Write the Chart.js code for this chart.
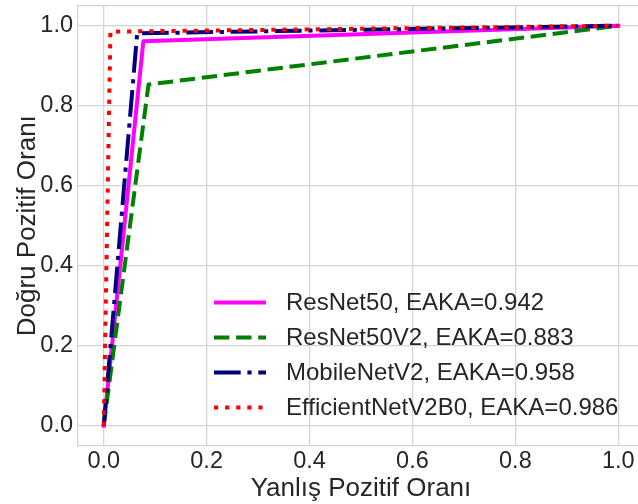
<!DOCTYPE html>
<html>
<head>
<meta charset="utf-8">
<script src="https://cdn.jsdelivr.net/npm/chart.js@4.4.1/dist/chart.umd.min.js"></script>
<style>
html,body{margin:0;padding:0;background:#fff;overflow:hidden;width:638px;height:504px}
#roc{display:block}
</style>
</head>
<body>
<canvas id="roc" width="660" height="504"></canvas>
<script>
// ROC eğrileri: (FPR, TPR) noktaları
const modelNames=['ResNet50','ResNet50V2','MobileNetV2','EfficientNetV2B0'];
const eakaScores=[0.942,0.883,0.958,0.986];
const resnet50Fpr=[0,0.077,1],resnet50Tpr=[0,0.961,1];
const resnet50v2Fpr=[0,0.087,1],resnet50v2Tpr=[0,0.853,1];
const mobilenetFpr=[0,0.065,1],mobilenetTpr=[0,0.981,1];
const effnetFpr=[0,0.013,1],effnetTpr=[0,0.985,1];
const tickValues=[0,0.2,0.4,0.6,0.8,1.0];

const FONT='"Liberation Sans", Arial, sans-serif';
const TXT='#262626',GRID='#d4d4d4';

const styles=[
  {color:'#ff00ff',dash:[],cap:'square'},
  {color:'#008000',dash:[15.4,6.7],cap:'butt'},
  {color:'#000080',dash:[26.7,6.7,4.2,6.7],cap:'butt'},
  {color:'#ff0000',dash:[4.2,6.9],cap:'butt'}
];
const curves=[[resnet50Fpr,resnet50Tpr],[resnet50v2Fpr,resnet50v2Tpr],[mobilenetFpr,mobilenetTpr],[effnetFpr,effnetTpr]];

function pts(fpr,tpr){return fpr.map(function(x,i){return{x:x,y:tpr[i]};});}

const datasets=curves.map(function(c,i){
  return{
    label:modelNames[i]+', EAKA='+eakaScores[i].toFixed(3),
    data:pts(c[0],c[1]),
    borderColor:styles[i].color,
    borderDash:styles[i].dash,
    borderCapStyle:styles[i].cap,
    borderJoinStyle:'round',
    borderWidth:4,pointRadius:0,tension:0,fill:false,
    order:curves.length-i // sonraki eğri üstte çizilsin
  };
});

// çerçevenin üst kenarı
const frame={id:'frame',beforeDatasetsDraw:function(chart){
  const a=chart.chartArea,ctx=chart.ctx;
  ctx.save();ctx.strokeStyle=GRID;ctx.lineWidth=1.3;
  ctx.beginPath();ctx.moveTo(a.left,a.top);ctx.lineTo(a.right,a.top);ctx.stroke();
  ctx.restore();
}};

// lejant: grafik alanının sağ alt köşesi, çerçevesiz
const legendBox={id:'legendBox',afterDatasetsDraw:function(chart){
  const a=chart.chartArea,ctx=chart.ctx;
  const x0=a.left+136,x1=x0+52,tx=x0+72,y0=302.5,step=35;
  ctx.save();
  ctx.font='24px '+FONT;ctx.textBaseline='middle';ctx.fillStyle=TXT;
  chart.data.datasets.forEach(function(ds,i){
    const y=y0+i*step;
    ctx.save();
    ctx.strokeStyle=ds.borderColor;ctx.lineWidth=4;
    ctx.setLineDash(ds.borderDash);ctx.lineCap=ds.borderCapStyle==='square'?'butt':ds.borderCapStyle;
    ctx.beginPath();ctx.moveTo(x0,y);ctx.lineTo(x1,y);ctx.stroke();
    ctx.restore();
    ctx.fillText(ds.label,tx,y+1);
  });
  ctx.restore();
}};

function onlyTicks(s){s.ticks=tickValues.map(function(v){return{value:v};});}
function noPad(s){s.paddingTop=0;s.paddingBottom=0;s.paddingLeft=0;s.paddingRight=0;}

new Chart(document.getElementById('roc'),{
  type:'line',
  data:{datasets:datasets},
  options:{
    responsive:false,animation:false,
    layout:{padding:{top:5.7,right:16,left:0,bottom:0}},
    plugins:{legend:{display:false},tooltip:{enabled:false}},
    scales:{
      x:{type:'linear',min:-0.05,max:1.05,
        afterBuildTicks:onlyTicks,
        afterFit:function(s){s.height=58.3;noPad(s);},
        grid:{color:GRID,lineWidth:1.3,drawTicks:false},
        border:{display:true,color:GRID,width:1.3},
        ticks:{padding:2,color:TXT,font:{family:FONT,size:23.5},callback:function(v){return v.toFixed(1);}},
        title:{display:true,text:'Yanlış Pozitif Oranı',color:TXT,font:{family:FONT,size:26},padding:{top:0,bottom:0}}
      },
      y:{type:'linear',min:-0.05,max:1.05,
        afterBuildTicks:onlyTicks,
        afterFit:function(s){s.width=78;noPad(s);},
        grid:{color:GRID,lineWidth:1.3,drawTicks:false},
        border:{display:true,color:GRID,width:1.3},
        ticks:{padding:5,color:TXT,font:{family:FONT,size:23.5},callback:function(v){return v.toFixed(1);}},
        title:{display:true,text:'Doğru Pozitif Oranı',color:TXT,font:{family:FONT,size:26},padding:{top:12,bottom:0}}
      }
    }
  },
  plugins:[frame,legendBox]
});
</script>
</body>
</html>
